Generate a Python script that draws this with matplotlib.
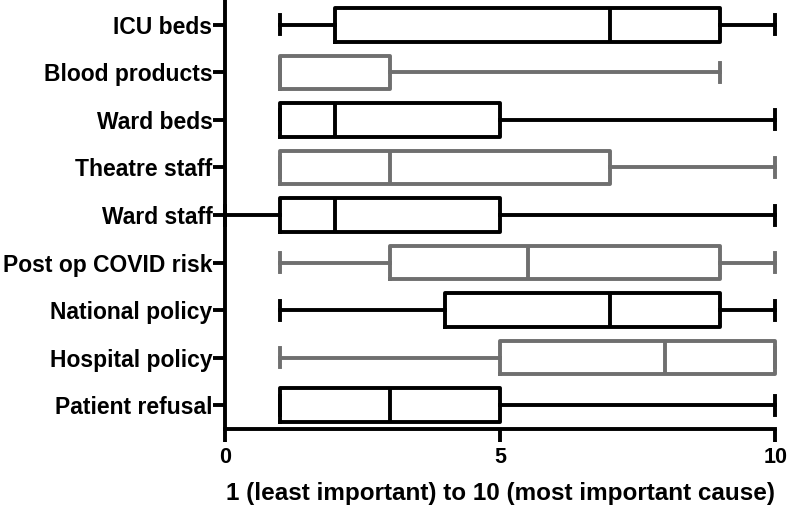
import matplotlib
matplotlib.use("Agg")
import matplotlib.pyplot as plt

plt.rcParams['font.family'] = ['Liberation Sans', 'DejaVu Sans']
plt.rcParams['font.weight'] = 'bold'

# categories, top to bottom
labels = ["ICU beds", "Blood products", "Ward beds", "Theatre staff", "Ward staff",
          "Post op COVID risk", "National policy", "Hospital policy", "Patient refusal"]
whislo = [1, 1, 1, 1, 0, 1, 1, 1, 1]
q1 = [2, 1, 1, 1, 1, 3, 4, 5, 1]
med = [7, 1, 2, 3, 2, 5.5, 7, 8, 3]
q3 = [9, 3, 5, 7, 5, 9, 9, 10, 5]
whishi = [10, 9, 10, 10, 10, 10, 10, 10, 10]
colors = ["black", "#6f6f6f", "black", "#6f6f6f", "black",
          "#6f6f6f", "black", "#6f6f6f", "black"]

fig = plt.figure(figsize=(7.87, 5.08), dpi=100)
ax = fig.add_axes([0.286, 0.1555, 0.699, 0.8445])

n = len(labels)
lw = 2.8
for i in range(n):
    pos = n - i
    st = [dict(whislo=whislo[i], q1=q1[i], med=med[i], q3=q3[i], whishi=whishi[i], fliers=[])]
    c = colors[i]
    art = ax.bxp(st, positions=[pos], widths=0.70, vert=False, showfliers=False,
                 capwidths=0.4, manage_ticks=False,
                 boxprops=dict(color=c, linewidth=lw),
                 whiskerprops=dict(color=c, linewidth=lw),
                 capprops=dict(color=c, linewidth=lw),
                 medianprops=dict(color=c, linewidth=lw))
    # keep the caps at 10 whole
    for key in art:
        for a in art[key]:
            a.set_clip_on(False)

ax.set_yticks(range(n, 0, -1))
ax.set_yticklabels(labels, fontsize=16.5, fontweight='bold')
ax.set_ylim(0.495, n + 0.526)
ax.set_xlim(0, 10)
ax.set_xticks([0, 5, 10])
ax.tick_params(axis='x', labelsize=15.5, width=lw, length=9, pad=4)
ax.tick_params(axis='y', width=lw, length=8.6, pad=0.5)
for s in ['top', 'right']:
    ax.spines[s].set_visible(False)
for s in ['left', 'bottom']:
    ax.spines[s].set_linewidth(lw)
ax.set_xlabel("1 (least important) to 10 (most important cause)", fontsize=17.5,
              fontweight='bold', labelpad=10)

fig.savefig("out.png", dpi=100)
